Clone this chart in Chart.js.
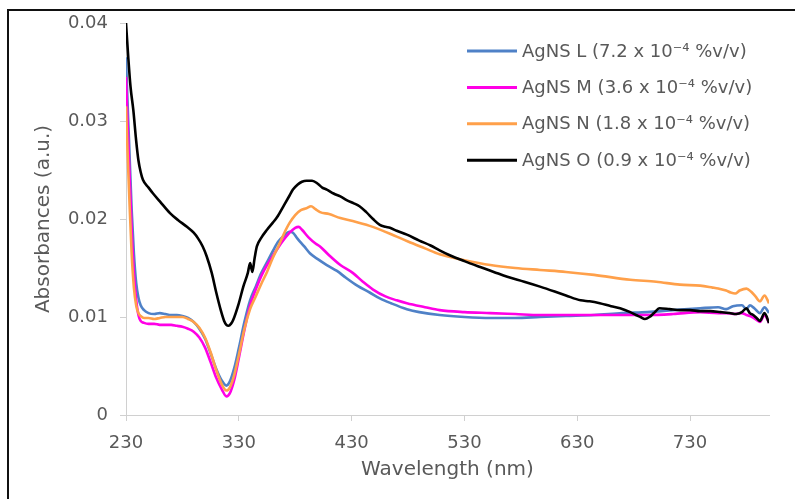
<!DOCTYPE html>
<html>
<head>
<meta charset="utf-8">
<script src="https://cdn.jsdelivr.net/npm/chart.js@4/dist/chart.umd.min.js"></script>
<style>
html,body{margin:0;padding:0;background:#fff;}
canvas{display:block;}
</style>
</head>
<body>
<canvas id="c" width="795" height="499"></canvas>
<script>
// ---- data ----
const seriesLabels = [
  'AgNS L (7.2 x 10\u207B\u2074 %v/v)',
  'AgNS M (3.6 x 10\u207B\u2074 %v/v)',
  'AgNS N (1.8 x 10\u207B\u2074 %v/v)',
  'AgNS O (0.9 x 10\u207B\u2074 %v/v)'
];
const seriesColors = ['#4f81c7', '#ff00e6', '#ffa04a', '#000000'];

const wavelengthL = [230,231,233,235,237,239,241,243,246,250,255,260,265,270,275,280,285,290,295,300,305,310,315,319,322,326,330,335,340,345,350,355,360,365,370,375,378,382,388,393,400,408,417,425,435,446,455,465,479,490,508,530,553,575,597,620,645,670,692,715,739,755,762,768,776,780,783,787,792,796,800];
const absorbanceL = [.0365,.033,.027,.021,.0165,.0135,.012,.0112,.0107,.0104,.0103,.0104,.0103,.0102,.0102,.0101,.0099,.0095,.0088,.0078,.0063,.0047,.0035,.0030,.0034,.0048,.0068,.0095,.0117,.0131,.0145,.0156,.0167,.0177,.0183,.0187,.0186,.0180,.0172,.0165,.0159,.0153,.0147,.0140,.0132,.0125,.0119,.0114,.0108,.0105,.0102,.0100,.0099,.0099,.0100,.0101,.0102,.0104,.0105,.0107,.0109,.0110,.0108,.0111,.0112,.0108,.0112,.0109,.0104,.0110,.0104];

const wavelengthM = [230,231,233,235,237,239,241,243,246,250,255,260,265,270,275,280,285,290,295,300,305,310,315,319,322,326,330,335,340,345,350,355,360,365,370,375,380,383,386,392,398,402,410,420,431,440,449,460,470,479,495,508,530,553,575,597,620,645,670,692,715,739,755,762,770,776,780,785,789,792,796,800];
const absorbanceM = [.0345,.031,.025,.019,.0145,.0118,.0102,.0096,.0094,.0093,.0093,.0092,.0092,.0092,.0091,.0090,.0088,.0085,.0079,.0069,.0054,.0038,.0026,.0019,.0022,.0036,.0058,.0087,.0112,.0128,.0142,.0153,.0162,.0171,.0179,.0186,.0191,.0192,.0189,.0181,.0175,.0172,.0163,.0153,.0145,.0136,.0128,.0121,.0117,.0114,.0110,.0107,.0105,.0104,.0103,.0102,.0102,.0102,.0102,.0102,.0103,.0105,.0104,.0104,.0103,.0104,.0102,.0100,.0097,.0095,.0102,.0094];

const wavelengthN = [230,231,233,235,237,239,241,243,246,250,255,260,265,270,275,280,285,290,295,300,305,310,315,319,322,326,330,335,340,345,350,355,360,365,370,375,380,385,390,394,398,402,410,420,431,446,464,480,495,508,530,553,575,597,620,645,677,700,721,739,750,755,762,766,770,774,780,784,788,792,796,800];
const absorbanceN = [.0315,.028,.022,.0165,.013,.0112,.0104,.0101,.0099,.0099,.0098,.0099,.0100,.0100,.0100,.0100,.0098,.0095,.0089,.0079,.0064,.0046,.0031,.0025,.0028,.0041,.0061,.0088,.0108,.0121,.0134,.0146,.0160,.0172,.0185,.0196,.0204,.0209,.0211,.0213,.0210,.0207,.0205,.0201,.0198,.0193,.0185,.0177,.0170,.0164,.0158,.0153,.0150,.0148,.0146,.0143,.0138,.0136,.0133,.0132,.0130,.0129,.0127,.0125,.0124,.0127,.0129,.0126,.0121,.0116,.0122,.0114];

const wavelengthO = [230,232,234,236.5,239,241,243,245,250,254,260,269,276,284,290,294,298,301.5,306,310,314,317,319,321,323,325,330,334,338,340,342,344,346,350,355,360,364,370,375,378,382,386,390,395,400,404,408,414,420,426,432,437,443,449,455,460,464,470,479,490,500,508,517,530,544,556,568,583,597,610,620,633,641,650,660,668,677,682,686,690,694,698,703,712,721,730,739,748,757,765,771,776,780,783,786,789,792,796,800];
const absorbanceO = [.0400,.0365,.0335,.0311,.0280,.0260,.0248,.0240,.0232,.0226,.0218,.0206,.0199,.0192,.0186,.0180,.0172,.0162,.0145,.0125,.0107,.0096,.0092,.0091,.0093,.0097,.0114,.0131,.0145,.0155,.0146,.0160,.0172,.0181,.0189,.0196,.0202,.0214,.0224,.0230,.0235,.0238,.0239,.0239,.0236,.0232,.0230,.0226,.0223,.0219,.0216,.0213,.0207,.0200,.0194,.0192,.0191,.0188,.0184,.0178,.0173,.0168,.0163,.0157,.0151,.0146,.0141,.0136,.0131,.0126,.0122,.0117,.0116,.0114,.0111,.0109,.0105,.0102,.0100,.0098,.0100,.0104,.0109,.0108,.0107,.0107,.0106,.0106,.0105,.0104,.0103,.0105,.0109,.0104,.0102,.0099,.0096,.0104,.0094];

const xTicks = [230, 330, 430, 530, 630, 730];
const yTicks = [0, 0.01, 0.02, 0.03, 0.04];
const xTitle = 'Wavelength (nm)';
const yTitle = 'Absorbances (a.u.)';

// ---- build ----
const wls = [wavelengthL, wavelengthM, wavelengthN, wavelengthO];
const abss = [absorbanceL, absorbanceM, absorbanceN, absorbanceO];
const datasets = seriesLabels.map((lab, i) => ({
  label: lab,
  data: wls[i].map((w, k) => ({x: w, y: abss[i][k]})),
  borderColor: seriesColors[i],
  backgroundColor: seriesColors[i],
  borderWidth: 2.6,
  pointRadius: 0,
  fill: false,
  cubicInterpolationMode: 'monotone',
  order: seriesLabels.length - i
}));

const TXT = '#595959';
const AX = '#d0d0d0';

const framePlugin = {
  id: 'frame',
  beforeDraw(chart) {
    const ctx = chart.ctx;
    ctx.save();
    ctx.fillStyle = '#fff';
    ctx.fillRect(0, 0, chart.width, chart.height);
    ctx.strokeStyle = '#111';
    ctx.lineWidth = 2;
    ctx.beginPath();
    ctx.moveTo(8, chart.height);
    ctx.lineTo(8, 10);
    ctx.lineTo(chart.width, 10);
    ctx.stroke();
    ctx.restore();
  }
};

const legendPlugin = {
  id: 'insideLegend',
  afterDatasetsDraw(chart) {
    const ctx = chart.ctx;
    ctx.save();
    ctx.font = '18px "DejaVu Sans"';
    ctx.textBaseline = 'middle';
    ctx.textAlign = 'left';
    chart.data.datasets.forEach((ds, i) => {
      const y = 51 + i * 36.4;
      ctx.strokeStyle = ds.borderColor;
      ctx.lineWidth = 3;
      ctx.beginPath();
      ctx.moveTo(467, y);
      ctx.lineTo(517, y);
      ctx.stroke();
      ctx.fillStyle = TXT;
      ctx.fillText(ds.label, 522, y + 1);
    });
    ctx.restore();
  }
};

new Chart(document.getElementById('c'), {
  type: 'line',
  data: { datasets },
  plugins: [framePlugin, legendPlugin],
  options: {
    responsive: false,
    animation: false,
    devicePixelRatio: 1,
    layout: { padding: { top: 23, right: 26, left: 0, bottom: 0 } },
    plugins: { legend: { display: false }, tooltip: { enabled: false } },
    scales: {
      x: {
        type: 'linear',
        min: 230,
        max: 800,
        afterBuildTicks: s => { s.ticks = xTicks.map(v => ({ value: v })); },
        afterFit: s => { s.height = 84; },
        ticks: { color: TXT, font: { family: 'DejaVu Sans', size: 18 }, padding: 12, maxRotation: 0, autoSkip: false },
        grid: { drawOnChartArea: false, drawTicks: true, tickLength: 6, color: AX },
        border: { color: AX, width: 1 },
        title: { display: true, text: xTitle, color: TXT, font: { family: 'DejaVu Sans', size: 20 }, padding: { top: 0, bottom: 17 } }
      },
      y: {
        type: 'linear',
        min: 0,
        max: 0.04,
        afterBuildTicks: s => { s.ticks = yTicks.map(v => ({ value: v })); },
        afterFit: s => { s.width = 126; },
        ticks: { color: TXT, font: { family: 'DejaVu Sans', size: 18 }, padding: 12,
                 callback: v => v === 0 ? '0' : v.toFixed(2) },
        grid: { drawOnChartArea: false, drawTicks: true, tickLength: 6, color: AX },
        border: { color: AX, width: 1 },
        title: { display: true, text: yTitle, color: TXT, font: { family: 'DejaVu Sans', size: 20 }, padding: { top: 32, bottom: 0 } }
      }
    }
  }
});
</script>
</body>
</html>
